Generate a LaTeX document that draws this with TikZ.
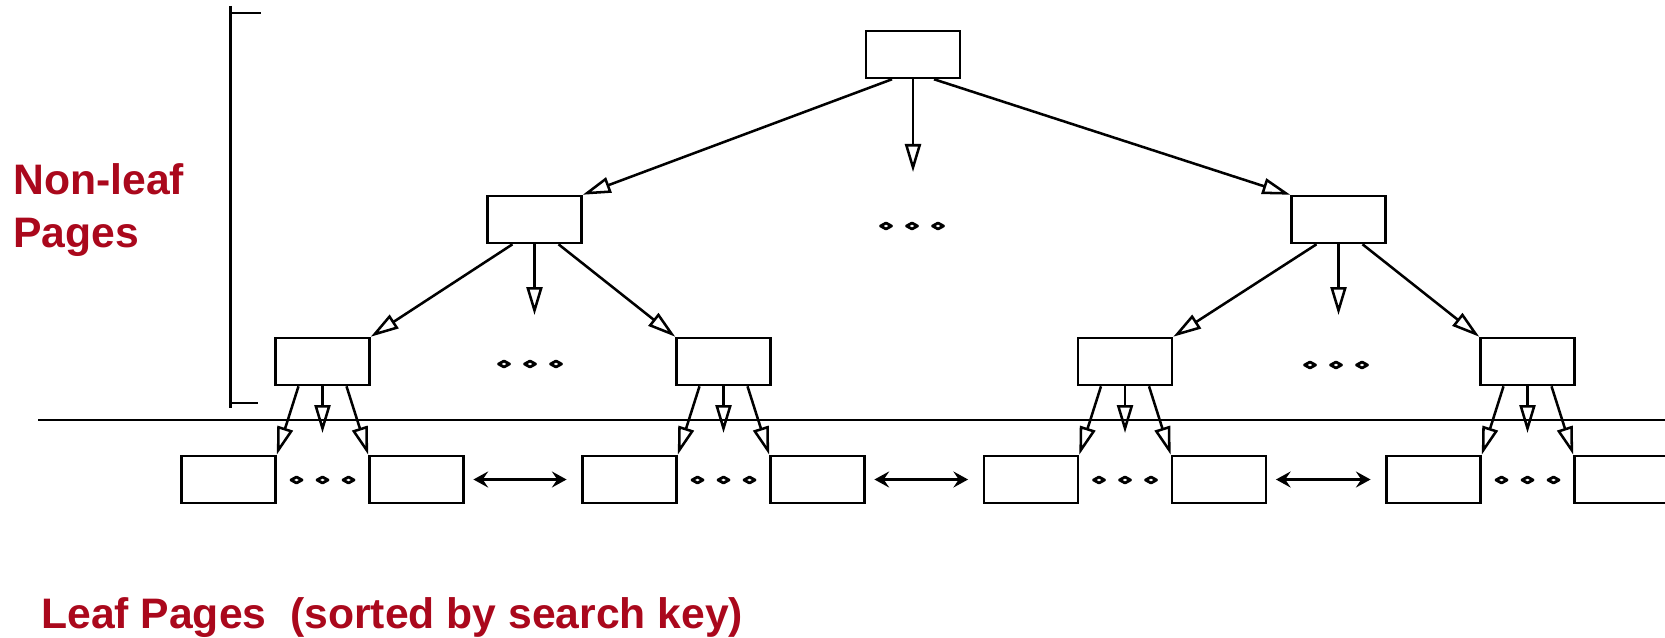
\documentclass[tikz,border=0pt]{standalone}
\usepackage{fontspec}
\setmainfont{Liberation Sans}
\usetikzlibrary{arrows.meta,calc}
\definecolor{labelred}{RGB}{170,8,28}
\begin{document}
\begin{tikzpicture}[x=0.75pt,y=-0.75pt,
  page/.style={draw,line width=1.9pt,inner sep=0pt,minimum width=70.5pt,minimum height=35.25pt},
  link/.style={line width=1.9pt,-{Triangle[open,length=21pt,width=12pt]}},
  sib/.style={line width=1.9pt,
    {Stealth[length=11pt,width=12pt,inset=4pt]}-{Stealth[length=11pt,width=12pt,inset=4pt]},
    shorten <=6.5pt,shorten >=11pt},
  rule/.style={line width=1.9pt},
  caption/.style={text=labelred,font=\fontsize{32}{38}\selectfont\bfseries,inner sep=0pt,anchor=base west},
  gap/.pic={\foreach \dx in {-26,0,26}
    \draw[line width=2.1pt,line join=round] (\dx-5.5,0) -- (\dx,3) -- (\dx+5.5,0) -- (\dx,-3) -- cycle;}]
\useasboundingbox (0,0) rectangle (1665,638);

% labels
\node[caption] (nl1) at (13,195) {Non-leaf};
\node[caption] (nl2) at (13,247) {Pages};
\node[caption] (lp) at (41,628) {Leaf Pages\ \ (sorted by search key)};

% bracket spanning the non-leaf levels
\draw[rule] (230.5,6) -- (230.5,408);
\draw[rule] (230.5,13) -- (261,13);
\draw[rule] (230.5,403) -- (258,403);

% separator between non-leaf and leaf levels
\draw[rule] (38,420) -- (1665,420);

% non-leaf pages
\node[page] (root) at (913,54.5) {};
\node[page] (iL) at (534.5,219.5) {};
\node[page] (iR) at (1338.5,219.5) {};
\node[page] (a) at (322.5,361.5) {};
\node[page] (b) at (723.5,361.5) {};
\node[page] (c) at (1125,361.5) {};
\node[page] (d) at (1527.5,361.5) {};

% leaf pages
\node[page] (a1) at (228.5,479.5) {};
\node[page] (a2) at (416.5,479.5) {};
\node[page] (b1) at (629.5,479.5) {};
\node[page] (b2) at (817.5,479.5) {};
\node[page] (c1) at (1031,479.5) {};
\node[page] (c2) at (1219,479.5) {};
\node[page] (d1) at (1433.5,479.5) {};
\node[page] (d2) at (1621.5,479.5) {};

% ends of the open middle pointers
\coordinate (root-m) at (913,172);
\coordinate (iL-m) at (534.5,315);
\coordinate (iR-m) at (1338.5,315);
\coordinate (a-m) at (322.5,433);
\coordinate (b-m) at (723.5,433);
\coordinate (c-m) at (1125,433);
\coordinate (d-m) at (1527.5,433);

% root pointers
\draw[link] ($(root.south)+(-21,0)$) -- (iL.north east);
\draw[link] (root.south) -- (root-m);
\draw[link] ($(root.south)+(21,0)$) -- (iR.north west);

% second-level pointers
\draw[link] ($(iL.south)+(-22,0)$) -- (a.north east);
\draw[link] (iL.south) -- (iL-m);
\draw[link] ($(iL.south)+(24,0)$) -- (b.north west);
\draw[link] ($(iR.south)+(-22,0)$) -- (c.north east);
\draw[link] (iR.south) -- (iR-m);
\draw[link] ($(iR.south)+(24,0)$) -- (d.north west);

% pointers into the leaves
\foreach \n in {a,b,c,d}{
  \draw[link] ($(\n.south)+(-24,0)$) -- (\n1.north east);
  \draw[link] (\n.south) -- (\n-m);
  \draw[link] ($(\n.south)+(24,0)$) -- (\n2.north west);
}

% sibling links between leaf pages
\draw[sib] (a2.east) -- (b1.west);
\draw[sib] (b2.east) -- (c1.west);
\draw[sib] (c2.east) -- (d1.west);

% elided entries
\pic at (912,226) {gap};
\pic at (530,364) {gap};
\pic at (1336,365) {gap};
\pic at (322.5,480) {gap};
\pic at (723.5,480) {gap};
\pic at (1125,480) {gap};
\pic at (1527.5,480) {gap};
\end{tikzpicture}
\end{document}
